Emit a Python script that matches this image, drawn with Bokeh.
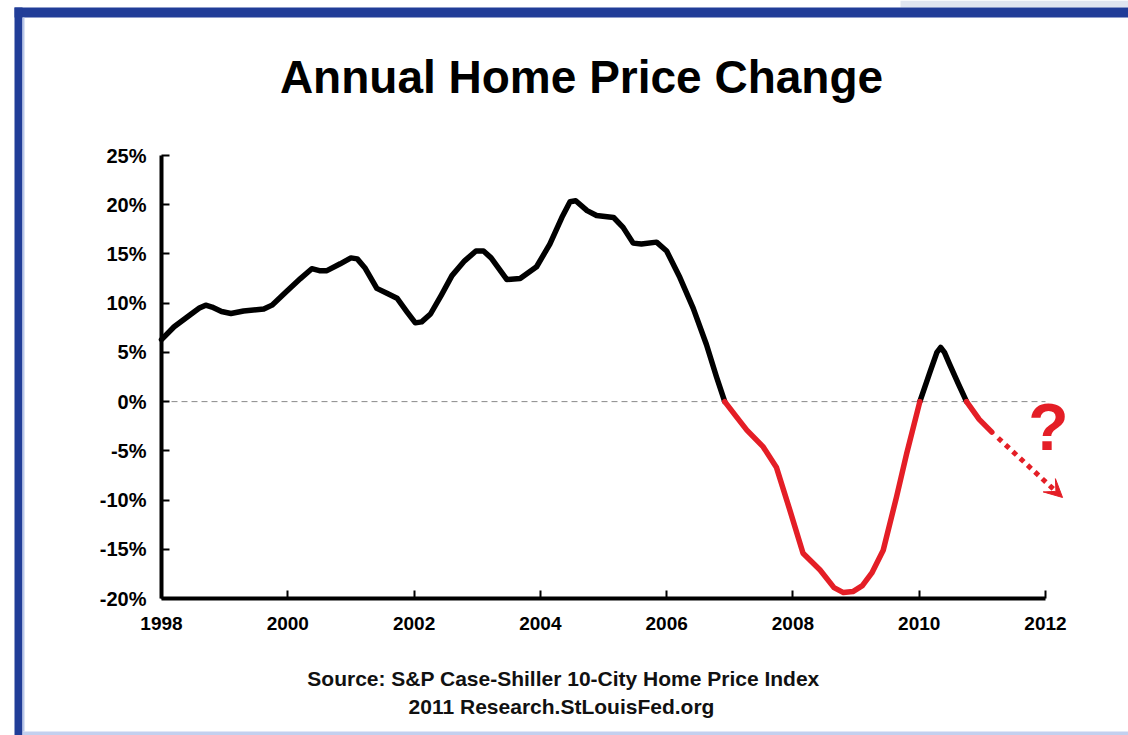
from bokeh.plotting import figure
from bokeh.models import (Range1d, FixedTicker, PrintfTickFormatter, Label, Arrow,
                          VeeHead, BoxAnnotation)
from bokeh.embed import file_html
from bokeh.resources import INLINE

# ---- data ----
years = [1998.00, 1998.20, 1998.45, 1998.60, 1998.70, 1998.80, 1998.95, 1999.10, 1999.30,
         1999.62, 1999.75, 1999.95, 2000.20, 2000.38, 2000.50, 2000.62, 2000.83, 2001.00,
         2001.10, 2001.22, 2001.41, 2001.57, 2001.73, 2001.89, 2002.02, 2002.12, 2002.26,
         2002.43, 2002.60, 2002.80, 2002.98, 2003.10, 2003.22, 2003.47, 2003.68, 2003.94,
         2004.15, 2004.34, 2004.47, 2004.56, 2004.74, 2004.89, 2005.16, 2005.31, 2005.47,
         2005.60, 2005.84, 2006.00, 2006.21, 2006.42, 2006.63, 2006.79, 2006.92, 2007.10,
         2007.27, 2007.53, 2007.74, 2007.95, 2008.16, 2008.43, 2008.65, 2008.80, 2008.95,
         2009.10, 2009.25, 2009.43, 2009.64, 2009.80, 2010.01, 2010.17, 2010.28, 2010.34,
         2010.40, 2010.48, 2010.62, 2010.75, 2010.95, 2011.15]
values = [6.3, 7.6, 8.8, 9.5, 9.8, 9.6, 9.15, 8.95, 9.2,
          9.4, 9.8, 11.0, 12.5, 13.5, 13.3, 13.3, 14.0, 14.6,
          14.5, 13.6, 11.5, 11.0, 10.5, 9.1, 8.0, 8.1, 8.9,
          10.8, 12.8, 14.3, 15.3, 15.3, 14.6, 12.4, 12.5, 13.7,
          16.0, 18.7, 20.3, 20.4, 19.4, 18.9, 18.7, 17.7, 16.1,
          16.0, 16.2, 15.3, 12.6, 9.5, 5.8, 2.5, 0.0, -1.5,
          -2.9, -4.6, -6.7, -11.0, -15.4, -17.1, -18.9, -19.4, -19.3,
          -18.7, -17.4, -15.1, -9.7, -5.3, 0.0, 3.0, 5.0, 5.5,
          5.0, 3.8, 1.8, 0.0, -1.8, -3.1]
proj_years = [2011.25, 2012.27]
proj_values = [-3.7, -9.74]

x_ticks = [1998, 2000, 2002, 2004, 2006, 2008, 2010, 2012]
y_ticks = [-20, -15, -10, -5, 0, 5, 10, 15, 20, 25]

title_text = "Annual Home Price Change"
source_lines = ["Source: S&P Case-Shiller 10-City Home Price Index",
                "2011 Research.StLouisFed.org"]
question_text = "?"

BLACK = "#000000"
RED = "#e41e26"
BLUE = "#213d98"
FONT = "Liberation Sans"

W, H = 1128, 735
# calibration of the plotting area (pixels of the canvas)
AX_LEFT, AX_RIGHT, AX_TOP, AX_BOTTOM = 161, 1045, 155, 598
X0, X1, Y0, Y1 = 1998, 2012, -20, 25
PX_X = (AX_RIGHT - AX_LEFT) / (X1 - X0)
PX_Y = (AX_BOTTOM - AX_TOP) / (Y1 - Y0)

def dx(px):
    return X0 + (px - AX_LEFT) / PX_X

def dy(py):
    return Y1 - (py - AX_TOP) / PX_Y

# ---- split series into positive (black) / negative (red) runs ----
def split_runs(xs, ys):
    runs = {"pos": ([], []), "neg": ([], [])}
    cur = None
    cx, cy = [], []
    for i in range(len(xs) - 1):
        kind = "pos" if (ys[i] + ys[i + 1]) / 2.0 >= 0 else "neg"
        if kind != cur:
            if cur is not None:
                runs[cur][0].append(cx)
                runs[cur][1].append(cy)
            cx, cy = [xs[i]], [ys[i]]
            cur = kind
        cx.append(xs[i + 1])
        cy.append(ys[i + 1])
    if cur is not None:
        runs[cur][0].append(cx)
        runs[cur][1].append(cy)
    return runs

runs = split_runs(years, values)

p = figure(width=W, height=H, output_backend="svg", toolbar_location=None, title=None,
           x_range=Range1d(dx(0), dx(W)), y_range=Range1d(dy(H), dy(0)),
           min_border=0)

p.background_fill_color = "white"
p.border_fill_color = "white"
p.outline_line_color = None
p.grid.visible = False

for ax in (p.xaxis[0], p.yaxis[0]):
    ax.axis_line_width = 4
    ax.axis_line_color = BLACK
    ax.major_tick_line_width = 2
    ax.major_tick_line_color = BLACK
    ax.major_tick_in = 8
    ax.major_tick_out = 0
    ax.minor_tick_in = 0
    ax.minor_tick_out = 0
    ax.major_label_text_font = FONT
    ax.major_label_text_font_style = "bold"
    ax.major_label_text_color = BLACK

p.xaxis.fixed_location = Y0
p.yaxis.fixed_location = X0
p.xaxis.bounds = (X0, X1)
p.yaxis.bounds = (Y0, Y1)
p.xaxis.ticker = FixedTicker(ticks=x_ticks)
p.yaxis.ticker = FixedTicker(ticks=y_ticks)
p.xaxis.formatter = PrintfTickFormatter(format="%d")
p.yaxis.formatter = PrintfTickFormatter(format="%d%%")
p.xaxis.major_label_text_font_size = "19px"
p.yaxis.major_label_text_font_size = "20px"
p.xaxis.major_label_standoff = 18
p.yaxis.major_label_standoff = 15

# decorative frame (canvas pixels)
def cbox(l, r, t, b, color, alpha=1.0):
    return BoxAnnotation(left=l, right=r, top=t, bottom=b,
                         left_units="canvas", right_units="canvas",
                         top_units="canvas", bottom_units="canvas",
                         fill_color=color, fill_alpha=alpha, line_color=None,
                         level="underlay")

p.add_layout(cbox(900, W, 0, 7, "#dfe5f0"))
p.add_layout(cbox(14, W, 7, 17, BLUE))
p.add_layout(cbox(14, 22, 7, H, BLUE))
p.add_layout(cbox(22, 24, 17, 731, "#b9c7ea"))
p.add_layout(cbox(22, W, 731, H, "#c3d0ef"))

# zero reference line
p.line([x_ticks[0], x_ticks[-1]], [0, 0], line_color="#8a8a8a", line_width=1, line_dash="6 4")

# series
p.multi_line(runs["pos"][0], runs["pos"][1], line_color=BLACK, line_width=5.5,
             line_join="round", line_cap="round")
p.multi_line(runs["neg"][0], runs["neg"][1], line_color=RED, line_width=5.5,
             line_join="round", line_cap="round")

# projection arrow
p.add_layout(Arrow(x_start=proj_years[0], y_start=proj_values[0],
                   x_end=proj_years[1], y_end=proj_values[1],
                   line_color=RED, line_width=5, line_dash="5 5",
                   end=VeeHead(size=18, fill_color=RED, line_color=RED, line_width=1)))

p.add_layout(Label(x=dx(1048), y=dy(426), text=question_text, text_align="center",
                   text_baseline="middle", text_font=FONT, text_font_style="bold",
                   text_font_size="66px", text_color=RED))

# title and source texts
p.add_layout(Label(x=dx(581), y=dy(76), text=title_text, text_align="center",
                   text_baseline="middle", text_font=FONT, text_font_style="bold",
                   text_font_size="46px", text_color=BLACK))
p.add_layout(Label(x=dx(563), y=dy(678), text=source_lines[0], text_align="center",
                   text_baseline="middle", text_font=FONT, text_font_style="bold",
                   text_font_size="21px", text_color="#111111"))
p.add_layout(Label(x=dx(561), y=dy(706), text=source_lines[1], text_align="center",
                   text_baseline="middle", text_font=FONT, text_font_style="bold",
                   text_font_size="21px", text_color="#111111"))

open("out.html", "w").write(file_html(p, INLINE))
